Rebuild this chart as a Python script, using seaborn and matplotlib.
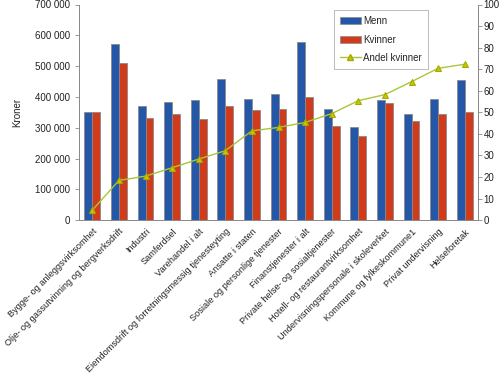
import matplotlib as mpl
mpl.use('Agg')
import matplotlib.pyplot as plt
import matplotlib.ticker as mticker
import numpy as np
import pandas as pd
import seaborn as sns

sns.set_style('white')
plt.rcParams['font.family'] = ['Liberation Sans', 'DejaVu Sans']

naeringer = [
    'Bygge- og anleggsvirksomhet',
    'Olje- og gassutvinning og bergverksdrift',
    'Industri',
    'Samferdsel',
    'Varehandel i alt',
    'Eiendomsdrift og forretningsmessig tjenesteyting',
    'Ansatte i staten',
    'Sosiale og personlige tjenester',
    'Finanstjenester i alt',
    'Private helse- og sosialtjenester',
    'Hotell- og restaurantvirksomhet',
    'Undervisningspersonale i skoleverket',
    'Kommune og fylkeskommune1',
    'Privat undervisning',
    'Helseforetak',
]
menn = [350000, 573000, 371000, 383000, 389000, 459000, 392000, 409000,
        577000, 361000, 303000, 391000, 345000, 392000, 455000]
kvinner = [350000, 511000, 333000, 345000, 328000, 371000, 357000, 362000,
           401000, 304000, 272000, 381000, 321000, 345000, 352000]
andel_kvinner = [4.6, 18.4, 20.4, 24.3, 28.3, 32.2, 41.4, 43.0,
                 45.3, 49.4, 55.4, 58.2, 64.2, 70.4, 72.3]

blue = '#2457a8'
red = '#d03b1b'
green = '#a9c63a'
edge = '#8a8a8a'

bar_df = pd.DataFrame({
    'naering': naeringer * 2,
    'kjonn': ['Menn'] * len(naeringer) + ['Kvinner'] * len(naeringer),
    'lonn': menn + kvinner,
})
line_df = pd.DataFrame({'naering': naeringer, 'andel': andel_kvinner})

fig = plt.figure(figsize=(5, 3.75), dpi=100)
ax = fig.add_axes([0.158, 0.413, 0.798, 0.575])

sns.barplot(data=bar_df, x='naering', y='lonn', hue='kjonn',
            palette=[blue, red], width=0.6, gap=0, ax=ax,
            edgecolor=edge, linewidth=0.6, saturation=1, legend=False)

ax2 = ax.twinx()
sns.pointplot(data=line_df, x='naering', y='andel', ax=ax2, color=green,
              markers='^', linestyles='-', markersize=5,
              markerfacecolor='#c8c400', markeredgecolor='#a6a800',
              linewidth=1.0)

n = len(naeringer)
ax.set_xlim(-0.5, n - 0.5)
ax2.set_xlim(-0.5, n - 0.5)
ax.set_ylim(0, 700000)
ax2.set_ylim(0, 100)

ax.yaxis.set_major_locator(mticker.MultipleLocator(100000))
ax.yaxis.set_major_formatter(
    mticker.FuncFormatter(lambda v, p: '{:,.0f}'.format(v).replace(',', ' ')))
ax2.yaxis.set_major_locator(mticker.MultipleLocator(10))

ax.set_xticks(range(n))
ax.set_xticklabels(naeringer, rotation=45, ha='right',
                   rotation_mode='anchor', fontsize=6.6, color='#222222')
ax.set_xticks(np.arange(-0.5, n, 1.0), minor=True)
ax.tick_params(axis='x', which='major', length=0, pad=5)
ax.tick_params(axis='x', which='minor', length=3, color=edge, width=0.6,
               direction='out')
ax.tick_params(axis='y', length=3, color=edge, width=0.6, direction='out',
               labelsize=7, labelcolor='#222222', left=True)
ax2.tick_params(axis='y', length=3, color=edge, width=0.6, direction='out',
                labelsize=7, labelcolor='#222222', right=True, pad=1)

ax.set_xlabel('')
ax.set_ylabel('Kroner', fontsize=7, color='#222222', labelpad=9)
ax2.set_xlabel('')
ax2.set_ylabel('')

for a in (ax, ax2):
    a.spines['top'].set_visible(False)
    for side in ('left', 'bottom', 'right'):
        a.spines[side].set_color(edge)
        a.spines[side].set_linewidth(0.7)
ax.grid(False)
ax2.grid(False)

handles = [
    mpl.patches.Patch(facecolor=blue, edgecolor=edge, linewidth=0.5),
    mpl.patches.Patch(facecolor=red, edgecolor=edge, linewidth=0.5),
    mpl.lines.Line2D([], [], color=green, marker='^', markersize=4,
                     markerfacecolor='#c8c400', markeredgecolor='#a6a800',
                     linewidth=1.0),
]
leg = ax2.legend(handles, ['Menn', 'Kvinner', 'Andel kvinner'],
                 loc='upper left', bbox_to_anchor=(0.628, 0.995),
                 fontsize=7, frameon=True, fancybox=False,
                 handlelength=2.1, handleheight=0.75, borderpad=0.6,
                 labelspacing=0.85, handletextpad=0.25)
leg.get_frame().set_edgecolor('#aaaaaa')
leg.get_frame().set_linewidth(0.7)

fig.savefig('out.png', dpi=100)
